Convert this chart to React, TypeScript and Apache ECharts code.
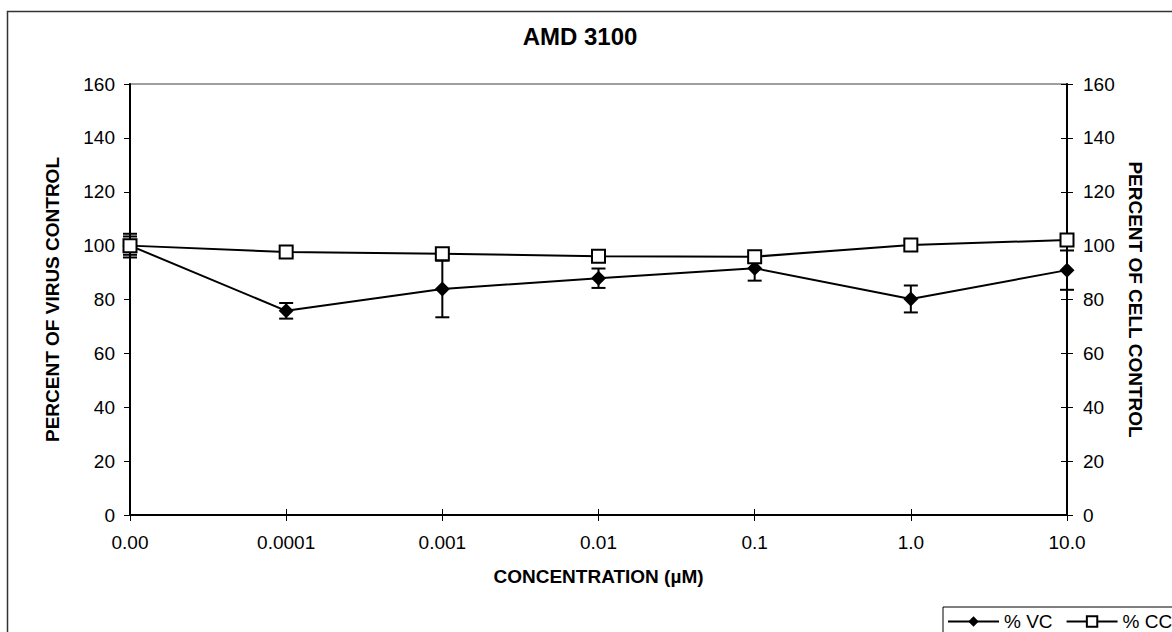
import React, { useEffect, useRef } from "react";
import * as echarts from "echarts";

const categories = ["0.00", "0.0001", "0.001", "0.01", "0.1", "1.0", "10.0"];
const vcValues = [100, 75.8, 83.9, 87.9, 91.6, 80.2, 90.9];
const vcErrors = [4.4, 2.9, 10.5, 3.6, 4.6, 5.0, 7.3];
const ccValues = [100, 97.6, 97.0, 96.1, 95.9, 100.2, 102.1];
const ccErrors = [3.4, 1.5, 1.5, 1.5, 1.5, 1.5, 1.5];
const yTicks = { min: 0, max: 160, interval: 20 };

const FONT = "'Liberation Sans', Arial, sans-serif";

export default function App() {
  const ref = useRef<HTMLDivElement>(null);
  useEffect(() => {
    if (!ref.current) return;
    const chart = echarts.init(ref.current, undefined, { renderer: "svg" });
    const errData = (vals: number[], errs: number[]) =>
      vals.map((v, i) => [i, v - errs[i], v + errs[i]]);
    const renderErr = (params: any, api: any) => {
      const x = api.value(0);
      const lo = api.coord([x, api.value(1)]);
      const hi = api.coord([x, api.value(2)]);
      const w = 7;
      const style = { stroke: "#000", lineWidth: 2 };
      return {
        type: "group",
        children: [
          { type: "line", shape: { x1: lo[0], y1: lo[1], x2: hi[0], y2: hi[1] }, style },
          { type: "line", shape: { x1: lo[0] - w, y1: lo[1], x2: lo[0] + w, y2: lo[1] }, style },
          { type: "line", shape: { x1: hi[0] - w, y1: hi[1], x2: hi[0] + w, y2: hi[1] }, style },
        ],
      };
    };
    const labelStyle = { color: "#000", fontSize: 19, fontFamily: FONT };
    const nameStyle = { color: "#000", fontSize: 19, fontWeight: "bold" as const, fontFamily: FONT };
    chart.setOption({
      animation: false,
      backgroundColor: "#fff",
      title: {
        text: "AMD 3100",
        left: 575,
        textAlign: "center",
        top: 19,
        textStyle: { color: "#000", fontSize: 24, fontWeight: "bold", fontFamily: FONT },
      },
      graphic: [
        {
          type: "rect",
          shape: { x: 7.5, y: 11.5, width: 1300, height: 800 },
          style: { fill: "none", stroke: "#333", lineWidth: 1.5 },
          silent: true,
        },
      ],
      legend: {
        data: ["% VC", "% CC"],
        left: 943,
        top: 607,
        width: 300,
        orient: "horizontal",
        padding: [5, 4, 5, 4],
        itemWidth: 51,
        itemHeight: 13,
        itemGap: 13,
        borderColor: "#000",
        borderWidth: 1,
        textStyle: { color: "#000", fontSize: 19, fontFamily: FONT },
      },
      grid: {
        left: 130,
        right: 105,
        top: 84,
        bottom: 117,
        show: true,
        borderColor: "#808080",
        borderWidth: 1.5,
      },
      xAxis: [
        {
          type: "category",
          data: categories,
          boundaryGap: false,
          position: "bottom",
          name: "CONCENTRATION (µM)",
          nameLocation: "middle",
          nameGap: 52,
          nameTextStyle: nameStyle,
          axisLine: { lineStyle: { color: "#000", width: 2 } },
          axisTick: { length: 6, lineStyle: { color: "#000", width: 1 } },
          axisLabel: { ...labelStyle, margin: 18 },
          splitLine: { show: false },
        },
        {
          type: "category",
          data: categories,
          boundaryGap: false,
          position: "bottom",
          axisLine: { show: false },
          axisTick: { inside: true, length: 6, lineStyle: { color: "#000", width: 1 } },
          axisLabel: { show: false },
          splitLine: { show: false },
        },
      ],
      yAxis: [
        {
          type: "value",
          position: "left",
          ...yTicks,
          name: "PERCENT OF VIRUS CONTROL",
          nameLocation: "middle",
          nameGap: 68,
          nameTextStyle: nameStyle,
          axisLine: { show: true, lineStyle: { color: "#000", width: 2 } },
          axisTick: { show: true, length: 6, lineStyle: { color: "#000", width: 1 } },
          axisLabel: { ...labelStyle, margin: 15 },
          splitLine: { show: false },
        },
        {
          type: "value",
          position: "right",
          ...yTicks,
          name: "PERCENT OF CELL CONTROL",
          nameLocation: "middle",
          nameRotate: -90,
          nameGap: 57,
          nameTextStyle: nameStyle,
          axisLine: { show: true, lineStyle: { color: "#000", width: 2 } },
          axisTick: { show: true, length: 6, lineStyle: { color: "#000", width: 1 } },
          axisLabel: { ...labelStyle, margin: 16 },
          splitLine: { show: false },
        },
        {
          type: "value",
          position: "right",
          ...yTicks,
          axisLine: { show: false },
          axisTick: { show: true, inside: true, length: 6, lineStyle: { color: "#000", width: 1 } },
          axisLabel: { show: false },
          splitLine: { show: false },
        },
      ],
      series: [
        {
          type: "custom",
          name: "vcErr",
          xAxisIndex: 0,
          yAxisIndex: 0,
          renderItem: renderErr,
          encode: { x: 0, y: [1, 2] },
          data: errData(vcValues, vcErrors),
          silent: true,
        },
        {
          type: "custom",
          name: "ccErr",
          xAxisIndex: 0,
          yAxisIndex: 1,
          renderItem: renderErr,
          encode: { x: 0, y: [1, 2] },
          data: errData(ccValues, ccErrors),
          silent: true,
        },
        {
          type: "line",
          name: "% VC",
          xAxisIndex: 0,
          yAxisIndex: 0,
          data: vcValues,
          symbol: "diamond",
          symbolSize: 15,
          lineStyle: { color: "#000", width: 2 },
          itemStyle: { color: "#000" },
        },
        {
          type: "line",
          name: "% CC",
          xAxisIndex: 0,
          yAxisIndex: 1,
          data: ccValues,
          symbol: "rect",
          symbolSize: 13,
          lineStyle: { color: "#000", width: 2 },
          itemStyle: { color: "#fff", borderColor: "#000", borderWidth: 2 },
        },
      ],
    });
    return () => chart.dispose();
  }, []);
  return (
    <div
      ref={ref}
      style={{ position: "fixed", left: 0, top: 0, width: 1172, height: 632, background: "#fff" }}
    />
  );
}
